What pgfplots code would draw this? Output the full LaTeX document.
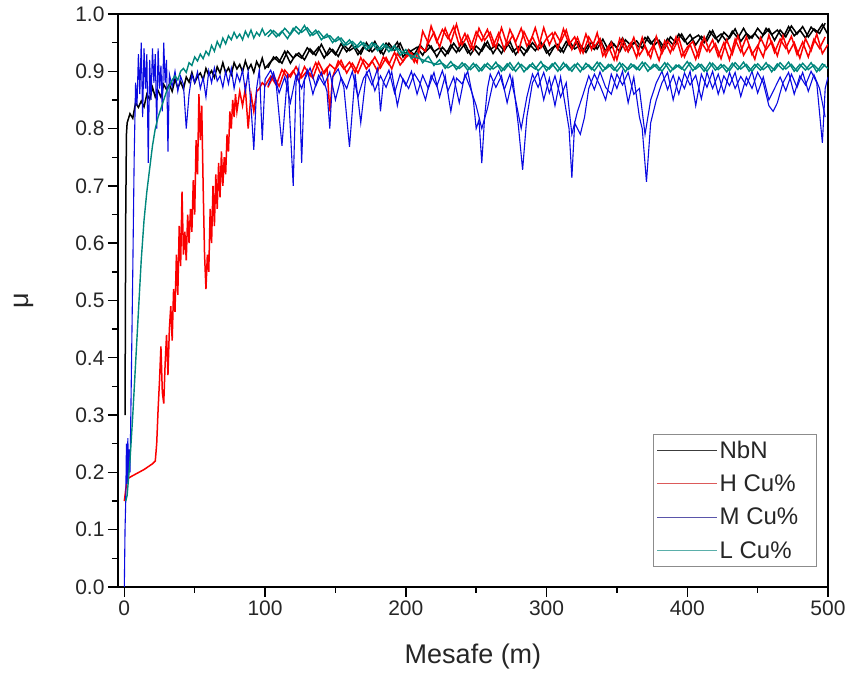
\documentclass[border=0pt]{standalone}
\usepackage{fontspec}
\setmainfont{Liberation Sans}
\usepackage{pgfplots}
\pgfplotsset{compat=1.18}

\definecolor{cNbN}{RGB}{0,0,0}
\definecolor{cH}{RGB}{250,0,0}
\definecolor{cM}{RGB}{10,10,225}
\definecolor{cL}{RGB}{0,135,125}
% legend samples look paler in the reference
\definecolor{legNbN}{RGB}{60,60,60}
\definecolor{legH}{RGB}{220,90,90}
\definecolor{legM}{RGB}{90,85,170}
\definecolor{legL}{RGB}{90,175,170}

\begin{document}
\begin{tikzpicture}
\begin{axis}[
  name=ax,
  scale only axis,
  width=710pt, height=573pt,
  xmin=-4.5, xmax=500, ymin=0, ymax=1,
  xtick={0,100,200,300,400,500},
  minor x tick num=1,
  ytick={0,0.1,0.2,0.3,0.4,0.5,0.6,0.7,0.8,0.9,1.0},
  minor y tick num=1,
  xtick pos=bottom, ytick pos=left,
  tick align=outside,
  major tick length=10pt, minor tick length=6pt,
  every tick/.style={black, line width=1.4pt},
  axis line style={line width=2pt},
  yticklabel style={/pgf/number format/fixed, /pgf/number format/fixed zerofill, /pgf/number format/precision=1},
  /pgf/number format/assume math mode=true,
  tick label style={font=\fontsize{21}{21}\selectfont, text=black!85},
  xlabel={Mesafe (m)},
  ylabel={μ},
  label style={font=\fontsize{27}{27}\selectfont, text=black!85},
  xlabel style={at={(axis description cs:0.5,-0.122)}, anchor=center},
  ylabel style={at={(axis description cs:-0.132,0.5)}, anchor=center},
  legend style={at={(0.984,0.035)}, anchor=south east, draw=black!45, line width=0.6pt,
    font=\fontsize{24}{24}\selectfont, row sep=11pt, inner xsep=3pt, inner ysep=5pt, text=black!85},
  legend cell align=left,
  legend image code/.code={\draw[#1] (0pt,0pt) -- (60pt,0pt);},
]
\addlegendimage{color=legNbN, line width=1pt}
\addlegendentry{NbN}
\addlegendimage{color=legH, line width=1pt}
\addlegendentry{H Cu\%\hspace*{13pt}}
\addlegendimage{color=legM, line width=1pt}
\addlegendentry{M Cu\%\hspace*{13pt}}
\addlegendimage{color=legL, line width=1pt}
\addlegendentry{L Cu\%}

% NbN
\addplot[cNbN, line width=1.5pt, forget plot] coordinates {
(0.5,0.30)(1,0.65)(1.5,0.79)(2,0.81)(4,0.826)(6,0.818)(8,0.845)(10,0.837)(12,0.848)(14,0.838)(16,0.860)(18,0.851)(20,0.872)(22,0.855)(24,0.866)(26,0.855)(28,0.877)(30,0.868)(32,0.877)(34,0.865)(36,0.886)(38,0.871)(40,0.882)(42,0.869)(44,0.890)(46,0.881)(48,0.898)(50,0.880)(52,0.891)(54,0.897)(56,0.885)(58,0.905)(60,0.893)(62,0.901)(64,0.889)(66,0.908)(68,0.897)(70,0.915)(72,0.897)(74,0.906)(76,0.894)(78,0.915)(80,0.904)(82,0.912)(84,0.899)(86,0.918)(88,0.903)(90,0.912)(92,0.898)(94,0.917)(96,0.907)(98,0.923)(100,0.905)
(104,0.917)(108,0.925)(112,0.914)(116,0.935)(120,0.923)(124,0.932)(128,0.920)(132,0.939)(136,0.928)(140,0.947)(144,0.928)(148,0.938)(152,0.926)(156,0.946)(160,0.936)(164,0.943)(168,0.930)(172,0.950)(176,0.934)(180,0.944)(184,0.929)(188,0.949)(192,0.936)(196,0.949)(200,0.927)
(204,0.936)(208,0.942)(212,0.928)(216,0.947)(220,0.934)(224,0.941)(228,0.927)(232,0.946)(236,0.933)(240,0.951)(244,0.932)(248,0.942)(252,0.929)(256,0.949)(260,0.938)(264,0.945)(268,0.931)(272,0.950)(276,0.934)(280,0.943)(284,0.928)(288,0.947)(292,0.936)(296,0.951)(300,0.932)
(304,0.941)(308,0.947)(312,0.933)(316,0.953)(320,0.939)(324,0.946)(328,0.933)(332,0.951)(336,0.939)(340,0.956)(344,0.937)(348,0.947)(352,0.934)(356,0.955)(360,0.945)(364,0.953)(368,0.940)(372,0.960)(376,0.944)(380,0.954)(384,0.940)(388,0.960)(392,0.950)(396,0.965)(400,0.947)
(404,0.957)(408,0.963)(412,0.950)(416,0.970)(420,0.957)(424,0.965)(428,0.952)(432,0.970)(436,0.958)(440,0.975)(444,0.957)(448,0.966)(452,0.954)(456,0.975)(460,0.964)(464,0.972)(468,0.958)(472,0.978)(476,0.962)(480,0.972)(484,0.958)(488,0.977)(492,0.967)(496,0.982)(500,0.964)
};
\addplot[cNbN, line width=1.5pt, forget plot] coordinates {
(102,0.906)(106,0.925)(110,0.916)(114,0.935)(118,0.914)(122,0.930)(126,0.923)(130,0.941)(134,0.930)(138,0.942)(142,0.923)(146,0.940)(150,0.929)(154,0.948)(158,0.934)(162,0.947)(166,0.929)(170,0.943)(174,0.935)(178,0.952)(182,0.932)(186,0.949)(190,0.937)(194,0.951)(198,0.925)
(202,0.938)(206,0.929)(210,0.946)(214,0.934)(218,0.944)(222,0.925)(226,0.942)(230,0.931)(234,0.949)(238,0.935)(242,0.948)(246,0.929)(250,0.944)(254,0.935)(258,0.952)(262,0.931)(266,0.947)(270,0.936)(274,0.952)(278,0.929)(282,0.943)(286,0.934)(290,0.950)(294,0.938)(298,0.948)
(302,0.928)(306,0.945)(310,0.934)(314,0.952)(318,0.939)(322,0.951)(326,0.933)(330,0.947)(334,0.938)(338,0.956)(342,0.935)(346,0.952)(350,0.941)(354,0.958)(358,0.935)(362,0.950)(366,0.942)(370,0.959)(374,0.948)(378,0.959)(382,0.940)(386,0.957)(390,0.946)(394,0.965)(398,0.952)
(402,0.964)(406,0.946)(410,0.961)(414,0.953)(418,0.971)(422,0.951)(426,0.968)(430,0.958)(434,0.974)(438,0.952)(442,0.966)(446,0.958)(450,0.975)(454,0.963)(458,0.974)(462,0.954)(466,0.972)(470,0.960)(474,0.979)(478,0.965)(482,0.978)(486,0.960)(490,0.974)(494,0.966)(498,0.984)
};
% H Cu%
\addplot[cH, line width=1.5pt, forget plot] coordinates {
(0,0.15)(1,0.17)(2,0.185)(3,0.19)(5,0.193)(8,0.197)(11,0.201)(14,0.205)(17,0.210)(20,0.215)(22,0.22)(23,0.25)(24,0.31)(25,0.36)(26,0.42)(27,0.34)(28,0.32)(29,0.39)(30,0.44)(31,0.37)(32,0.45)(33,0.49)(34,0.43)(35,0.52)(36,0.48)(37,0.58)(38,0.51)(39,0.63)(40,0.56)(41,0.69)(42,0.58)(43,0.62)(44,0.57)(45,0.65)(46,0.60)(47,0.66)(48,0.62)(49,0.71)(50,0.65)(51,0.78)(52,0.72)(53,0.86)(54,0.78)(55,0.84)(56,0.70)(57,0.58)(58,0.52)(59,0.58)(60,0.55)(61,0.66)(62,0.60)(63,0.70)(64,0.63)(65,0.72)(66,0.66)(67,0.74)(68,0.68)(69,0.76)(70,0.70)(71,0.75)(72,0.72)(73,0.79)(74,0.76)(75,0.83)(76,0.80)(77,0.85)(78,0.82)(79,0.86)(80,0.83)(82,0.865)(84,0.84)(86,0.87)(88,0.80)(90,0.86)(92,0.83)(94,0.865)(96,0.87)(98,0.88)(100,0.875)
(104,0.891)(108,0.876)(112,0.903)(116,0.888)(120,0.901)(124,0.883)(128,0.908)(132,0.892)(136,0.915)(140,0.893)(144,0.906)(146,0.83)(148,0.890)(152,0.918)(156,0.904)(160,0.916)(164,0.898)(168,0.924)(172,0.904)(176,0.918)(180,0.900)(184,0.925)(188,0.912)(192,0.933)(196,0.911)(200,0.924)(204,0.932)(208,0.915)
(212,0.970)(216,0.949)(220,0.968)(224,0.942)(228,0.975)(232,0.950)(236,0.982)(240,0.946)(244,0.963)(248,0.938)(252,0.975)(256,0.954)(260,0.968)(264,0.941)(268,0.976)(272,0.946)(276,0.963)(280,0.935)(284,0.969)(288,0.948)(292,0.976)(296,0.941)(300,0.957)
(304,0.967)(308,0.939)(312,0.974)(316,0.947)(320,0.960)(324,0.933)(328,0.965)(332,0.938)(336,0.967)(340,0.927)(344,0.944)(348,0.920)(352,0.957)(356,0.936)(360,0.950)(364,0.924)(368,0.959)(372,0.929)(376,0.946)(380,0.919)(384,0.953)(388,0.932)(392,0.960)(396,0.926)(400,0.942)
(404,0.952)(408,0.925)(412,0.960)(416,0.934)(420,0.948)(424,0.922)(428,0.955)(432,0.930)(436,0.962)(440,0.928)(444,0.945)(448,0.921)(452,0.959)(456,0.938)(460,0.952)(464,0.927)(468,0.962)(472,0.932)(476,0.950)(480,0.923)(484,0.957)(488,0.936)(492,0.965)(496,0.931)(500,0.947)
};
\addplot[cH, line width=1.5pt, forget plot] coordinates {
(102,0.872)(106,0.892)(110,0.874)(114,0.902)(118,0.890)(122,0.908)(126,0.889)(130,0.901)(134,0.888)(138,0.916)(142,0.896)(146,0.912)(150,0.903)(154,0.919)(158,0.897)(162,0.914)(166,0.897)(170,0.920)(174,0.909)(178,0.925)(182,0.906)(186,0.924)(190,0.904)(194,0.931)(198,0.917)(202,0.936)(206,0.916)(210,0.943)
(214,0.935)(218,0.979)(222,0.951)(226,0.973)(230,0.957)(234,0.978)(238,0.945)(242,0.966)(246,0.940)(250,0.969)(254,0.953)(258,0.973)(262,0.944)(266,0.967)(270,0.937)(274,0.973)(278,0.951)(282,0.975)(286,0.944)(290,0.960)(294,0.939)(298,0.976)
(302,0.946)(306,0.968)(310,0.951)(314,0.972)(318,0.938)(322,0.959)(326,0.932)(330,0.960)(334,0.942)(338,0.957)(342,0.926)(346,0.950)(350,0.920)(354,0.956)(358,0.934)(362,0.959)(366,0.928)(370,0.944)(374,0.923)(378,0.961)(382,0.931)(386,0.953)(390,0.937)(394,0.958)(398,0.925)
(402,0.947)(406,0.921)(410,0.951)(414,0.935)(418,0.955)(422,0.926)(426,0.950)(430,0.920)(434,0.956)(438,0.934)(442,0.960)(446,0.929)(450,0.945)(454,0.925)(458,0.963)(462,0.933)(466,0.956)(470,0.940)(474,0.961)(478,0.929)(482,0.951)(486,0.925)(490,0.956)(494,0.940)(498,0.960)
};
% M Cu%
\addplot[cM, line width=1.1pt, forget plot] coordinates {
(0,0.0)(0.5,0.10)(1,0.15)(1.5,0.25)(2,0.18)(2.5,0.26)(3,0.19)(3.5,0.24)(4,0.20)(4.5,0.28)(5,0.37)(6,0.55)(7,0.75)(8,0.88)(9,0.84)(10,0.93)(11,0.86)(12,0.95)(13,0.82)(14,0.94)(15,0.87)(16,0.93)(17,0.74)(18,0.92)(19,0.85)(20,0.94)(21,0.88)(22,0.93)(23,0.80)(24,0.94)(25,0.87)(26,0.91)(27,0.83)(28,0.95)(29,0.88)(30,0.92)(31,0.76)
(32,0.895)(34,0.873)(36,0.900)(38,0.865)(40,0.891)(42,0.877)(44,0.800)(46,0.860)(48,0.894)(50,0.880)(52,0.899)(54,0.870)(56,0.889)(58,0.855)(60,0.901)(62,0.880)(64,0.906)(66,0.883)(68,0.892)(70,0.872)(72,0.900)(74,0.878)(76,0.905)(78,0.870)(80,0.896)(82,0.882)(84,0.902)(86,0.865)(88,0.899)(90,0.840)(92,0.763)(94,0.870)(96,0.904)(98,0.780)(100,0.886)
(104,0.902)(108,0.875)(112,0.770)(116,0.895)(120,0.700)(122,0.880)(124,0.905)(126,0.740)(128,0.885)(132,0.906)(136,0.874)(140,0.898)(144,0.865)(146,0.800)(148,0.890)(152,0.904)(156,0.872)(160,0.768)(164,0.895)(168,0.810)(172,0.898)(176,0.876)(180,0.905)(182,0.830)(184,0.880)(188,0.902)(192,0.862)(196,0.895)(200,0.875)
(204,0.900)(208,0.860)(212,0.893)(216,0.870)(220,0.898)(224,0.855)(228,0.892)(232,0.830)(236,0.888)(240,0.878)(244,0.900)(248,0.850)(250,0.800)(252,0.815)(254,0.740)(256,0.820)(258,0.870)(260,0.895)(264,0.872)(268,0.892)(272,0.845)(276,0.888)(280,0.805)(283,0.728)(286,0.820)(290,0.880)(294,0.898)(298,0.850)
(302,0.888)(306,0.840)(310,0.890)(314,0.830)(316,0.800)(318,0.714)(320,0.810)(324,0.790)(327,0.820)(330,0.870)(334,0.895)(338,0.875)(342,0.850)(346,0.895)(350,0.870)(354,0.900)(358,0.845)(362,0.890)(366,0.820)(368,0.800)(371,0.707)(374,0.810)(378,0.850)(382,0.880)(386,0.898)(390,0.850)(394,0.890)(398,0.870)
(402,0.900)(406,0.840)(410,0.895)(414,0.872)(418,0.900)(422,0.860)(426,0.892)(430,0.875)(434,0.898)(438,0.856)(442,0.890)(446,0.870)(450,0.898)(454,0.880)(458,0.840)(461,0.830)(464,0.845)(468,0.880)(472,0.898)(476,0.860)(480,0.892)(484,0.876)(488,0.900)(492,0.880)(496,0.775)(498,0.870)(500,0.890)
};
\addplot[cM, line width=1.1pt, forget plot] coordinates {
(102,0.875)(106,0.898)(110,0.862)(114,0.890)(118,0.845)(122,0.893)(126,0.870)(130,0.902)(134,0.860)(138,0.893)(142,0.876)(146,0.899)(150,0.850)(154,0.889)(158,0.870)(162,0.900)(166,0.855)(170,0.888)(174,0.903)(178,0.866)(182,0.892)(186,0.872)(190,0.899)(194,0.840)(198,0.887)
(202,0.870)(206,0.896)(210,0.880)(214,0.850)(218,0.893)(222,0.874)(226,0.901)(230,0.866)(234,0.890)(238,0.845)(242,0.895)(246,0.870)(250,0.840)(254,0.800)(258,0.835)(262,0.880)(266,0.900)(270,0.868)(274,0.895)(278,0.850)(282,0.800)(286,0.855)(290,0.895)(294,0.872)(298,0.898)
(302,0.862)(306,0.892)(310,0.855)(314,0.880)(318,0.790)(322,0.830)(326,0.860)(330,0.892)(334,0.868)(338,0.899)(342,0.872)(346,0.860)(350,0.895)(354,0.876)(358,0.898)(362,0.860)(366,0.870)(370,0.790)(374,0.850)(378,0.880)(382,0.900)(386,0.868)(390,0.893)(394,0.860)(398,0.897)
(402,0.876)(406,0.893)(410,0.852)(414,0.898)(418,0.870)(422,0.895)(426,0.862)(430,0.898)(434,0.870)(438,0.891)(442,0.875)(446,0.900)(450,0.862)(454,0.890)(458,0.850)(462,0.870)(466,0.890)(470,0.866)(474,0.895)(478,0.872)(482,0.898)(486,0.865)(490,0.894)(494,0.870)(498,0.820)
};
% L Cu%
\addplot[cL, line width=1.4pt, forget plot] coordinates {
(1,0.15)(2,0.16)(4,0.22)(6,0.30)(8,0.39)(10,0.48)(12,0.57)(14,0.64)(16,0.69)(18,0.73)(20,0.77)(22,0.80)(24,0.82)(26,0.835)(28,0.85)(30,0.865)(32,0.875)(34,0.885)(36,0.892)(38,0.885)(40,0.900)(42,0.905)(44,0.898)(46,0.915)(48,0.910)(50,0.925)(52,0.918)(54,0.930)(56,0.922)(58,0.935)(60,0.928)(62,0.945)(64,0.935)(66,0.952)(68,0.942)(70,0.958)(72,0.948)(74,0.962)(76,0.955)(78,0.968)(80,0.958)(82,0.965)(84,0.955)(86,0.970)(88,0.960)(90,0.972)(92,0.958)(94,0.968)(96,0.962)(98,0.974)(100,0.963)
(104,0.972)(108,0.960)(112,0.970)(116,0.957)(120,0.975)(124,0.965)(128,0.980)(132,0.962)(136,0.972)(140,0.955)(144,0.965)(148,0.950)(152,0.960)(156,0.945)(160,0.955)(164,0.940)(168,0.952)(172,0.938)(176,0.950)(180,0.936)(184,0.948)(188,0.934)(192,0.945)(196,0.928)(200,0.938)
(204,0.922)(208,0.932)(212,0.915)(216,0.926)(220,0.910)(224,0.920)(228,0.905)(232,0.917)(236,0.903)(240,0.915)(244,0.902)(248,0.914)(252,0.900)(256,0.912)(260,0.903)(264,0.916)(268,0.900)(272,0.913)(276,0.902)(280,0.915)(284,0.899)(288,0.911)(292,0.904)(296,0.917)(300,0.901)
(304,0.913)(308,0.900)(312,0.915)(316,0.902)(320,0.912)(324,0.899)(328,0.914)(332,0.903)(336,0.916)(340,0.900)(344,0.912)(348,0.902)(352,0.915)(356,0.899)(360,0.913)(364,0.903)(368,0.916)(372,0.900)(376,0.912)(380,0.902)(384,0.915)(388,0.899)(392,0.911)(396,0.904)(400,0.917)
(404,0.901)(408,0.913)(412,0.900)(416,0.915)(420,0.902)(424,0.912)(428,0.899)(432,0.914)(436,0.903)(440,0.916)(444,0.900)(448,0.912)(452,0.902)(456,0.915)(460,0.899)(464,0.913)(468,0.903)(472,0.916)(476,0.900)(480,0.912)(484,0.902)(488,0.915)(492,0.899)(496,0.913)(500,0.905)
};
\addplot[cL, line width=1.4pt, forget plot] coordinates {
(102,0.960)(106,0.971)(110,0.962)(114,0.975)(118,0.964)(122,0.978)(126,0.968)(130,0.976)(134,0.963)(138,0.970)(142,0.958)(146,0.962)(150,0.952)(154,0.958)(158,0.946)(162,0.952)(166,0.942)(170,0.950)(174,0.940)(178,0.948)(182,0.938)(186,0.946)(190,0.936)(194,0.940)(198,0.932)
(202,0.930)(206,0.925)(210,0.922)(214,0.918)(218,0.915)(222,0.912)(226,0.914)(230,0.906)(234,0.912)(238,0.905)(242,0.913)(246,0.903)(250,0.912)(254,0.901)(258,0.914)(262,0.904)(266,0.911)(270,0.902)(274,0.915)(278,0.900)(282,0.912)(286,0.903)(290,0.914)(294,0.901)(298,0.911)
(302,0.904)(306,0.915)(310,0.902)(314,0.912)(318,0.900)(322,0.914)(326,0.903)(330,0.911)(334,0.901)(338,0.915)(342,0.904)(346,0.912)(350,0.900)(354,0.913)(358,0.903)(362,0.911)(366,0.902)(370,0.915)(374,0.904)(378,0.912)(382,0.900)(386,0.914)(390,0.903)(394,0.911)(398,0.901)
(402,0.915)(406,0.904)(410,0.912)(414,0.900)(418,0.914)(422,0.903)(426,0.911)(430,0.901)(434,0.915)(438,0.904)(442,0.912)(446,0.900)(450,0.913)(454,0.903)(458,0.911)(462,0.902)(466,0.915)(470,0.904)(474,0.912)(478,0.900)(482,0.914)(486,0.903)(490,0.911)(494,0.901)(498,0.912)
};
\end{axis}
\pgfresetboundingbox
\path ([shift={(-118pt,-92pt)}]ax.south west) rectangle ([shift={(24pt,14pt)}]ax.north east);
\end{tikzpicture}
\end{document}
